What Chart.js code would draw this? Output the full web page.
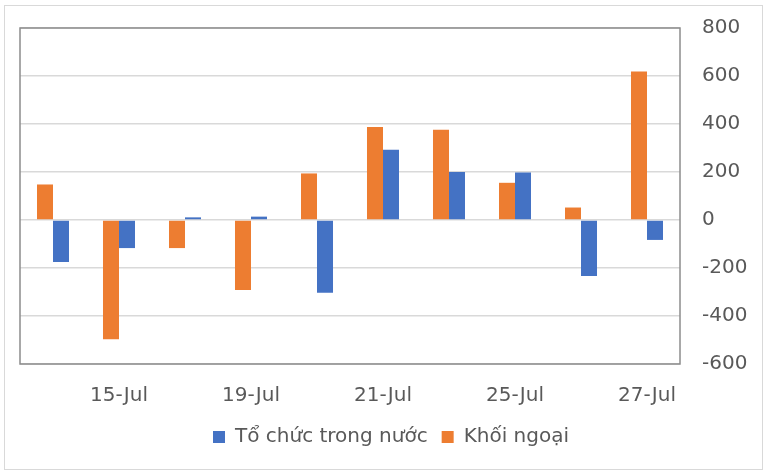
<!DOCTYPE html>
<html lang="vi">
<head>
    <meta charset="UTF-8">
    <title>Giao dịch</title>
    <script src="https://cdn.jsdelivr.net/npm/chart.js"></script>
</head>
<style>
    body { margin: 0; background: white; }
    .chartBox {
        position: absolute;
        left: 4px;
        top: 5px;
        width: 757px;
        height: 463px;
        border: 1px solid #d9d9d9;
    }
</style>
<body>
<div class="chartBox">
    <canvas id="flowChart"></canvas>
</div>
<script>
    const days = ['14-Jul', '15-Jul', '18-Jul', '19-Jul', '20-Jul', '21-Jul', '22-Jul', '25-Jul', '26-Jul', '27-Jul'];
    const khoiNgoai = [148, -497, -117, -292, 194, 388, 376, 155, 52, 619];
    const toChuc = [-175, -117, 11, 14, -303, 293, 200, 198, -233, -83];

    // khung viền quanh vùng vẽ
    const frame = {
        id: 'frame',
        afterDraw(chart) {
            const a = chart.chartArea;
            const c = chart.ctx;
            c.save();
            c.strokeStyle = '#8c8c8c';
            c.lineWidth = 1.5;
            c.strokeRect(a.left, a.top, a.right - a.left, a.bottom - a.top);
            c.restore();
        }
    };

    Chart.defaults.font.family = 'DejaVu Sans';
    Chart.defaults.font.size = 20;
    Chart.defaults.color = '#595959';

    new Chart(document.getElementById('flowChart'), {
        type: 'bar',
        data: {
            labels: days,
            datasets: [
                { label: 'Khối ngoại', data: khoiNgoai, backgroundColor: '#ED7D31' },
                { label: 'Tổ chức trong nước', data: toChuc, backgroundColor: '#4472C4' }
            ]
        },
        options: {
            responsive: true,
            maintainAspectRatio: false,
            animation: false,
            categoryPercentage: 0.485,
            barPercentage: 1,
            layout: { padding: { left: 15, top: 22, bottom: 12, right: 0 } },
            plugins: {
                legend: {
                    position: 'bottom',
                    reverse: true,
                    labels: { boxWidth: 12, boxHeight: 12, padding: 14 }
                },
                tooltip: { enabled: false }
            },
            scales: {
                x: {
                    grid: { display: false, drawTicks: false },
                    border: { display: false },
                    ticks: {
                        autoSkip: false,
                        maxRotation: 0,
                        padding: 20,
                        callback: function (v, i) { return i % 2 === 1 ? this.getLabelForValue(v) : ''; }
                    },
                    afterFit: s => { s.height = 49; }
                },
                y: {
                    position: 'right',
                    min: -600,
                    max: 800,
                    ticks: { stepSize: 200, padding: 22 },
                    grid: { color: '#d9d9d9', lineWidth: 1.5, drawTicks: false },
                    border: { display: false },
                    afterFit: s => { s.width = 82; s.paddingTop = 0; s.paddingBottom = 0; }
                }
            }
        },
        plugins: [frame]
    });
</script>
</body>
</html>
